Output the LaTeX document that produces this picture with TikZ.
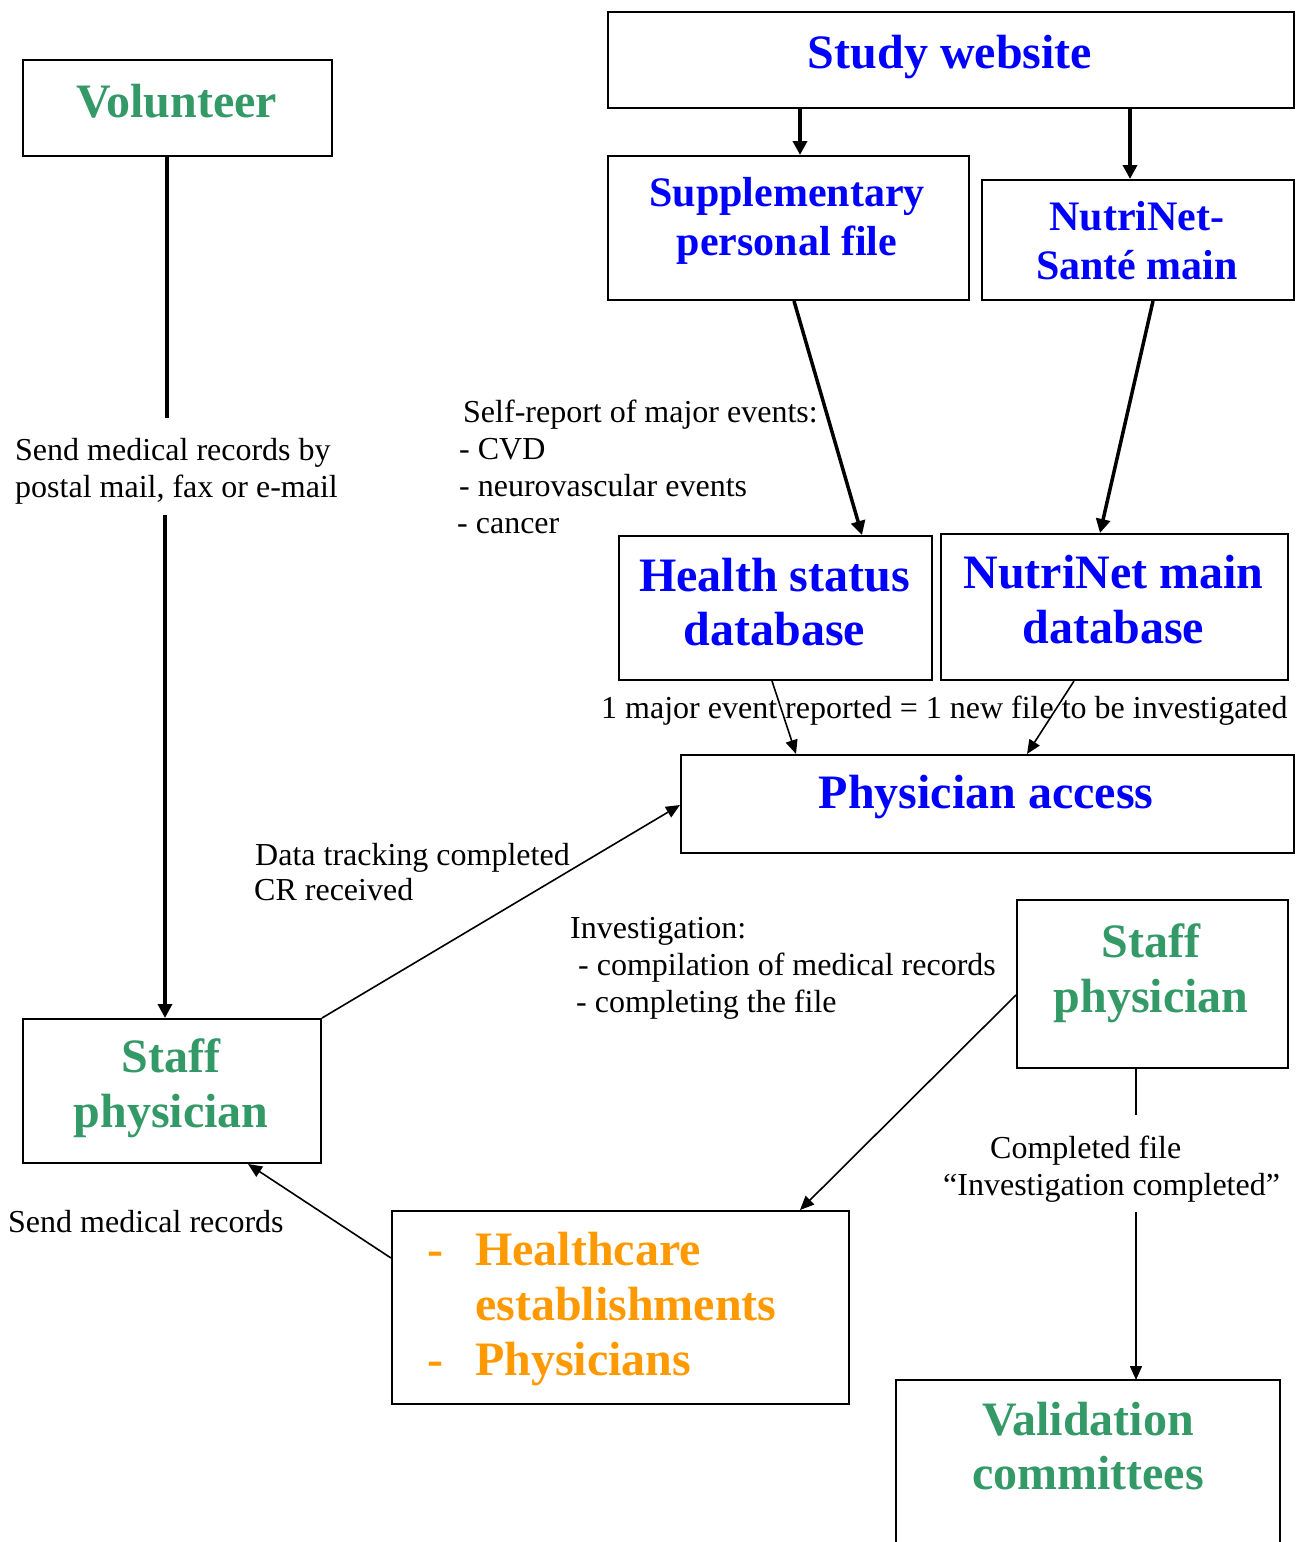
\documentclass[tikz,border=0pt]{standalone}
\usepackage{fontspec}
\setmainfont{Liberation Serif}
\usetikzlibrary{arrows.meta}
\definecolor{cblue}{RGB}{0,0,255}
\definecolor{cgreen}{RGB}{51,153,102}
\definecolor{corange}{RGB}{255,153,0}
\begin{document}
\begin{tikzpicture}[x=1pt,y=-1pt,
 box/.style={draw, line width=2pt, inner sep=0, anchor=north west},
 big/.style={font=\fontsize{48}{55}\selectfont\bfseries, inner sep=0, anchor=base},
 mid/.style={font=\fontsize{42}{49}\selectfont\bfseries, inner sep=0, anchor=base},
 lbl/.style={font=\fontsize{32}{37}\selectfont, inner sep=0, anchor=base west},
 thickarrow/.style={line width=3.5pt, -{Triangle[length=14pt,width=14pt]}},
 thickline/.style={line width=3.5pt},
 thinarrow/.style={line width=1.6pt, -{Triangle[length=14pt,width=12pt]}},
 thinline/.style={line width=1.6pt},
]
\useasboundingbox (0,0) rectangle (1296,1542);

% boxes
\node[box, minimum width=686, minimum height=96] (study) at (607,11) {};
\node[box, minimum width=361, minimum height=144] (supp) at (607,155) {};
\node[box, minimum width=312, minimum height=120] (nsm) at (981,179) {};
\node[box, minimum width=313, minimum height=144] (health) at (618,535) {};
\node[box, minimum width=347, minimum height=146] (nmain) at (940,533) {};
\node[box, minimum width=613, minimum height=98] (pa) at (680,754) {};
\node[box, minimum width=309, minimum height=96] (vol) at (22,59) {};
\node[box, minimum width=298, minimum height=144] (staffL) at (22,1018) {};
\node[box, minimum width=271, minimum height=168] (staffR) at (1016,899) {};
\node[box, minimum width=457, minimum height=193] (hc) at (391,1210) {};
\draw[line width=2pt] (896,1542) -- (896,1380) -- (1280,1380) -- (1280,1542);
\coordinate (val) at (1136,1380);

% box texts
\node[big, text=cblue] (t-study) at (950,68) {Study website};
\node[mid, text=cblue] (t-supp1) at (787,206) {Supplementary};
\node[mid, text=cblue] (t-supp2) at (787,255) {personal file};
\node[mid, text=cblue] (t-nsm1) at (1137,230) {NutriNet-};
\node[mid, text=cblue] (t-nsm2) at (1137,279) {Santé main};
\node[big, text=cblue] (t-h1) at (774.5,591) {Health status};
\node[big, text=cblue] (t-h2) at (774.5,645) {database};
\node[big, text=cblue] (t-n1) at (1113.5,588) {NutriNet main};
\node[big, text=cblue] (t-n2) at (1113.5,643) {database};
\node[big, text=cblue] (t-pa) at (986,808) {Physician access};
\node[big, text=cgreen] (t-vol) at (176.5,117) {Volunteer};
\node[big, text=cgreen] (t-sl1) at (171,1072) {Staff};
\node[big, text=cgreen] (t-sl2) at (171,1127) {physician};
\node[big, text=cgreen] (t-sr1) at (1151,957) {Staff};
\node[big, text=cgreen] (t-sr2) at (1151,1012) {physician};
\node[big, text=cgreen] (t-v1) at (1088,1435) {Validation};
\node[big, text=cgreen] (t-v2) at (1088,1489) {committees};
\node[big, text=corange, anchor=base west] (t-d1) at (427,1265) {-};
\node[big, text=corange, anchor=base west] (t-hc1) at (475,1265) {Healthcare};
\node[big, text=corange, anchor=base west] (t-hc2) at (475,1320) {establishments};
\node[big, text=corange, anchor=base west] (t-d2) at (427,1375) {-};
\node[big, text=corange, anchor=base west] (t-hc3) at (475,1375) {Physicians};

% labels
\node[lbl] (l-sr1) at (463,422) {Self-report of major events:};
\node[lbl] (l-sr2) at (459,459) {- CVD};
\node[lbl] (l-sr3) at (459,496) {- neurovascular events};
\node[lbl] (l-sr4) at (457,533) {- cancer};
\node[lbl] (l-smr1) at (15,460) {Send medical records by};
\node[lbl] (l-smr2) at (15,497) {postal mail, fax or e-mail};
\node[lbl] (l-maj) at (601,718) {1 major event reported = 1 new file to be investigated};
\node[lbl] (l-dt1) at (255,865) {Data tracking completed};
\node[lbl] (l-dt2) at (254,900) {CR received};
\node[lbl] (l-inv1) at (570,938) {Investigation:};
\node[lbl] (l-inv2) at (578,975) {- compilation of medical records};
\node[lbl] (l-inv3) at (576,1012) {- completing the file};
\node[lbl] (l-send) at (8,1232) {Send medical records};
\node[lbl] (l-cf1) at (990,1158) {Completed file};
\node[lbl] (l-cf2) at (943,1195) {“Investigation completed”};

% connectors
\draw[thickarrow] (study.south -| 800,0) -- (supp.north -| 800,0);
\draw[thickarrow] (study.south -| 1130,0) -- (nsm.north -| 1130,0);
\draw[thickarrow] ([xshift=187pt]supp.south west) -- ([xshift=244pt]health.north west);
\draw[thickarrow] ([xshift=172pt]nsm.south west) -- ([xshift=160pt]nmain.north west);
\draw[thinarrow] ([xshift=154pt]health.south west) -- ([xshift=116pt]pa.north west);
\draw[thinarrow] ([xshift=134pt]nmain.south west) -- ([xshift=347pt]pa.north west);

\coordinate (v1) at (167,418);
\coordinate (v2) at (165,515);
\draw[thickline] (vol.south -| v1) -- (v1);
\draw[thickarrow] (v2) -- (staffL.north -| v2);

\draw[thinarrow] (staffL.north east) -- ([yshift=-51pt]pa.north west);
\draw[thinarrow] ([yshift=-96pt]staffR.north west) -- ([xshift=409pt]hc.north west);
\draw[thinarrow] ([yshift=-48pt]hc.north west) -- ([xshift=226pt]staffL.south west);

\coordinate (s1) at (1136,1115);
\coordinate (s2) at (1136,1212);
\draw[thinline] (staffR.south -| s1) -- (s1);
\draw[thinarrow] (s2) -- (val);
\end{tikzpicture}
\end{document}
